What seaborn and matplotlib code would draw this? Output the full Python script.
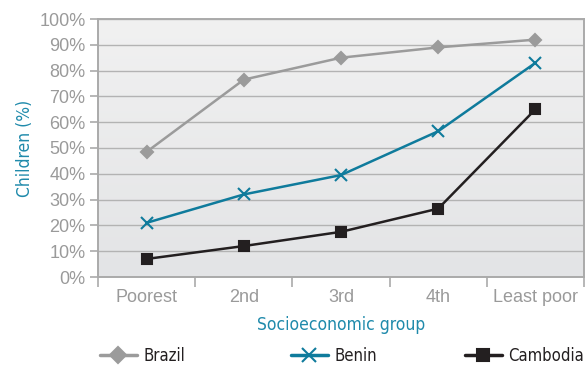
import numpy as np
import pandas as pd
import matplotlib
matplotlib.use("Agg")
import matplotlib.pyplot as plt
import seaborn as sns
from matplotlib.lines import Line2D
from matplotlib.colors import LinearSegmentedColormap

groups = ["Poorest", "2nd", "3rd", "4th", "Least poor"]
brazil = [48.5, 76.5, 85, 89, 92]
benin = [21, 32, 39.5, 56.5, 83]
cambodia = [7, 12, 17.5, 26.5, 65]
countries = ["Brazil", "Benin", "Cambodia"]
yticks = list(range(0, 101, 10))

sns.set_theme(style="white")
plt.rcParams['font.family'] = ['Liberation Sans', 'DejaVu Sans']

series = {"Brazil": brazil, "Benin": benin, "Cambodia": cambodia}
colors = {"Brazil": "#9b9b9b", "Benin": "#0f7b9c", "Cambodia": "#231f20"}
markers = {"Brazil": "D", "Benin": "x", "Cambodia": "s"}
msizes = {"Brazil": 6.5, "Benin": 9, "Cambodia": 7}

fig = plt.figure(figsize=(5.85, 3.70), dpi=100)
ax = fig.add_axes([98/585, 1-277/370, (584-98)/585, (277-19)/370])

grad = np.linspace(0, 1, 256).reshape(-1, 1)
cmap = LinearSegmentedColormap.from_list("bg", ["#f1f1f1", "#e3e4e6"])
ax.imshow(grad, extent=[0, 1, 0, 1], transform=ax.transAxes, cmap=cmap,
          aspect="auto", zorder=0, origin="upper")

for y in yticks[1:]:
    ax.axhline(y, color="#b3b3b3", lw=1.0, zorder=1)

for c in countries:
    d = pd.DataFrame({"pos": range(len(groups)), "value": series[c]})
    sns.lineplot(data=d, x="pos", y="value", color=colors[c], marker=markers[c],
                 markersize=msizes[c], markeredgewidth=1.5,
                 markeredgecolor=colors[c], markerfacecolor=colors[c],
                 linewidth=1.8, ax=ax, zorder=3)

ax.set_xlim(-0.5, len(groups) - 0.5)
ax.set_ylim(0, 100)
ax.set_yticks(yticks)
ax.set_yticklabels([f"{v}%" for v in yticks])
ax.set_xticks(range(len(groups)))
ax.set_xticklabels(groups)
ax.set_xticks(np.arange(-0.5, len(groups), 1.0), minor=True)
ax.tick_params(axis="x", which="major", length=0, pad=9, labelsize=13, labelcolor="#9a9a9a")
ax.tick_params(axis="x", which="minor", length=7, width=1.2, color="#aaaaaa", direction="out", bottom=True)
ax.tick_params(axis="y", which="major", length=6, width=1.2, color="#aaaaaa", pad=3,
               labelsize=13, labelcolor="#9a9a9a", left=True, direction="out")

for s in ax.spines.values():
    s.set_color("#aaaaaa")
    s.set_linewidth(1.4)
    s.set_visible(True)

ax.set_xlabel("Socioeconomic group", color="#1f8aab", fontsize=12.5,
              family="DejaVu Sans", fontstretch="condensed", labelpad=7)
ax.set_ylabel("Children (%)", color="#1f8aab", fontsize=12.5,
              family="DejaVu Sans", fontstretch="condensed", labelpad=4)

xs = {"Brazil": 100/585, "Benin": 291/585, "Cambodia": 465/585}
for c in countries:
    h = Line2D([], [], color=colors[c], marker=markers[c], lw=2.5,
               markersize={"Brazil": 8, "Benin": 10, "Cambodia": 9}[c],
               markeredgewidth=1.5)
    leg = fig.legend([h], [c], loc="center left", bbox_to_anchor=(xs[c], 1 - 356/370),
                     frameon=False, handlelength=2.2, handletextpad=0.4,
                     borderpad=0, borderaxespad=0,
                     prop={"family": "DejaVu Sans", "stretch": "condensed", "size": 12, "weight": "normal"})
    for t in leg.get_texts():
        t.set_color("#231f20")

fig.savefig("out.png", dpi=100)
